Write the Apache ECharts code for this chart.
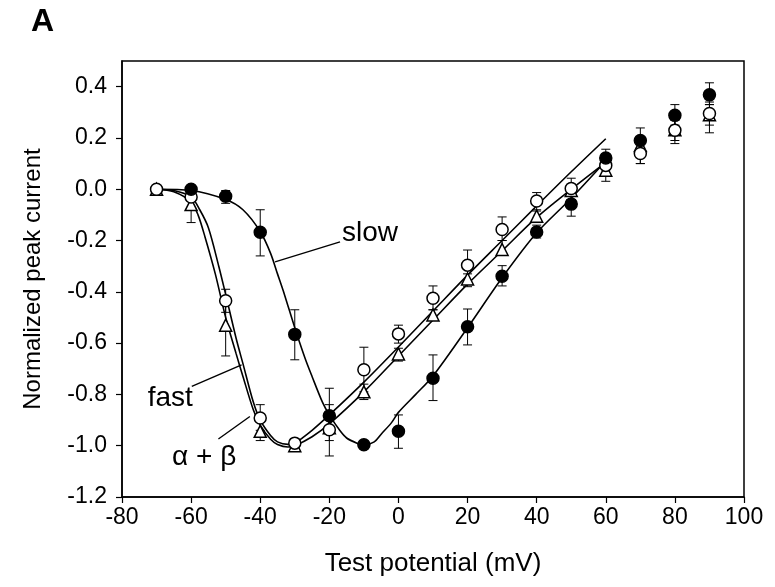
<!DOCTYPE html>
<html><head><meta charset="utf-8">
<script src="https://cdn.jsdelivr.net/npm/echarts@6/dist/echarts.min.js"></script>
<style>html,body{margin:0;padding:0;background:#fff}#c{width:775px;height:587px}</style>
</head><body><div id="c"></div>
<script>
// ---- data ----
var xTicks = [-80,-60,-40,-20,0,20,40,60,80,100];
var yTicks = [-1.2,-1.0,-0.8,-0.6,-0.4,-0.2,0.0,0.2,0.4];
// measured points [potential, current]
var slowPts = [[-60,0.0],[-50,-0.027],[-40,-0.168],[-30,-0.566],[-20,-0.883],[-10,-0.996],[0,-0.944],[10,-0.737],[20,-0.536],[30,-0.339],[40,-0.167],[50,-0.058],[60,0.122],[70,0.19],[80,0.288],[90,0.368]];
var fastPts = [[-70,0.0],[-60,-0.03],[-50,-0.435],[-40,-0.892],[-30,-0.99],[-20,-0.938],[-10,-0.704],[0,-0.564],[10,-0.425],[20,-0.296],[30,-0.157],[40,-0.046],[50,0.003],[60,0.093],[70,0.139],[80,0.23],[90,0.295]];
var abPts = [[-70,0.0],[-60,-0.06],[-50,-0.53],[-40,-0.944],[-30,-1.0],[-20,-0.93],[-10,-0.79],[0,-0.642],[10,-0.49],[20,-0.35],[30,-0.235],[40,-0.105],[50,-0.005],[60,0.074],[70,0.171],[80,0.232],[90,0.29]];
// error bars [potential, high, low]
var slowErr = [[-50,-0.005,-0.055],[-40,-0.08,-0.26],[-30,-0.47,-0.665],[-20,-0.776,-0.98],[0,-0.88,-1.01],[10,-0.646,-0.824],[20,-0.467,-0.607],[30,-0.298,-0.377],[40,-0.14,-0.19],[50,-0.02,-0.105],[60,0.156,0.09],[70,0.239,0.15],[80,0.33,0.25],[90,0.415,0.33]];
var fastErr = [[-50,-0.39,-0.48],[-40,-0.84,-0.94],[-20,-0.84,-1.04],[-10,-0.616,-0.79],[0,-0.53,-0.6],[10,-0.377,-0.47],[20,-0.237,-0.355],[30,-0.108,-0.2],[40,-0.013,-0.085],[50,0.043,-0.04],[60,0.13,0.06],[70,0.2,0.1],[80,0.27,0.19],[90,0.34,0.25]];
var abErr = [[-60,-0.02,-0.13],[-50,-0.45,-0.65],[-40,-0.9,-0.98],[-10,-0.76,-0.82],[0,-0.62,-0.67],[10,-0.47,-0.51],[20,-0.33,-0.38],[30,-0.2,-0.25],[40,-0.08,-0.13],[50,0.02,-0.04],[60,0.09,0.031],[70,0.2,0.1],[80,0.27,0.178],[90,0.33,0.22]];
// fitted curves
var slowFit = [[-70,0.0],[-60,-0.005],[-50,-0.04],[-45,-0.08],[-40,-0.165],[-37,-0.25],[-35,-0.33],[-33,-0.41],[-30,-0.54],[-27,-0.66],[-25,-0.73],[-22,-0.83],[-20,-0.88],[-17,-0.94],[-15,-0.97],[-12,-0.99],[-10,-0.997],[-7,-0.985],[-5,-0.955],[-2,-0.91],[0,-0.87],[5,-0.8],[10,-0.728],[20,-0.54],[30,-0.345],[40,-0.17],[50,-0.035],[60,0.11]];
var fastFit = [[-70,0.0],[-65,-0.005],[-60,-0.03],[-57.5,-0.08],[-55,-0.15],[-52,-0.3],[-50,-0.41],[-47,-0.58],[-45,-0.68],[-42,-0.83],[-40,-0.9],[-37,-0.96],[-35,-0.985],[-32,-0.995],[-30,-0.99],[-25,-0.94],[-20,-0.88],[-10,-0.752],[0,-0.615],[10,-0.475],[20,-0.335],[30,-0.2],[40,-0.065],[50,0.068],[60,0.197]];
var abFit = [[-70,0.0],[-65,-0.01],[-60,-0.05],[-58,-0.1],[-56,-0.185],[-53,-0.33],[-50,-0.5],[-47,-0.64],[-45,-0.73],[-42,-0.86],[-40,-0.92],[-37,-0.975],[-35,-0.995],[-32,-1.005],[-30,-1.0],[-25,-0.965],[-20,-0.915],[-10,-0.79],[0,-0.65],[10,-0.51],[20,-0.37],[30,-0.24],[40,-0.11],[50,0.0],[60,0.105]];
// annotation anchors (data coords)
var slowLabel = {text:'slow', at:[-16.9,-0.205], line:[[-16.9,-0.205],[-35.7,-0.283]]};
var fastLabel = {text:'fast', at:[-59.5,-0.815], line:[[-59.8,-0.769],[-45.4,-0.685]]};
var abLabel = {text:'\u03b1 + \u03b2', at:[-65.5,-1.045], line:[[-52.1,-0.974],[-43.0,-0.886]]};

var FONT = '"Liberation Sans", Arial, sans-serif';
var chart = echarts.init(document.getElementById('c'));

function errSeries(data){
  return {type:'custom', data:data, z:1, silent:true,
    renderItem:function(params, api){
      var x = api.value(0);
      var p1 = api.coord([x, api.value(1)]);
      var p2 = api.coord([x, api.value(2)]);
      var w = 4.5;
      var st = {stroke:'#000', lineWidth:1};
      return {type:'group', children:[
        {type:'line', shape:{x1:p1[0],y1:p1[1],x2:p2[0],y2:p2[1]}, style:st},
        {type:'line', shape:{x1:p1[0]-w,y1:p1[1],x2:p1[0]+w,y2:p1[1]}, style:st},
        {type:'line', shape:{x1:p2[0]-w,y1:p2[1],x2:p2[0]+w,y2:p2[1]}, style:st}
      ]};
    }};
}
function fitSeries(data){
  return {type:'line', data:data, smooth:0.3, showSymbol:false, z:2, silent:true,
    lineStyle:{color:'#000', width:1.6}};
}
function ptSeries(data, symbol, fill, size){
  return {type:'scatter', data:data, symbol:symbol, symbolSize:size, z:5, silent:true,
    itemStyle:{color:fill, borderColor:'#000', borderWidth:1.5, opacity:1}};
}
function annSeries(lab){
  return {type:'line', data:lab.line, showSymbol:false, z:3, silent:true, lineStyle:{color:'#000', width:1.4}};
}

chart.setOption({
  animation:false,
  grid:{left:122, right:31, top:61, bottom:90, show:true, borderColor:'#000', borderWidth:1.5, backgroundColor:'transparent'},
  xAxis:{type:'value', min:xTicks[0], max:xTicks[xTicks.length-1], interval:20,
    name:'Test potential (mV)', nameLocation:'middle', nameGap:54,
    nameTextStyle:{fontFamily:FONT, fontSize:26, color:'#000'},
    axisLine:{onZero:false, lineStyle:{color:'#000', width:1.5}},
    axisTick:{inside:false, length:6, lineStyle:{color:'#000', width:1.2}},
    axisLabel:{fontFamily:FONT, fontSize:23, color:'#000', margin:9},
    splitLine:{show:false}},
  yAxis:{type:'value', min:yTicks[0], max:0.5, interval:0.2,
    name:'Normalized peak current', nameLocation:'middle', nameGap:77, nameRotate:90,
    nameTextStyle:{fontFamily:FONT, fontSize:24, color:'#000'},
    axisLine:{onZero:false, lineStyle:{color:'#000', width:1.5}},
    axisTick:{inside:false, length:6, lineStyle:{color:'#000', width:1.2}},
    axisLabel:{fontFamily:FONT, fontSize:23, color:'#000', margin:15, showMaxLabel:false,
      formatter:function(v){ return yTicks.some(function(t){return Math.abs(t-v)<1e-6;}) ? v.toFixed(1) : ''; }},
    splitLine:{show:false}},
  series:[
    fitSeries(slowFit), fitSeries(fastFit), fitSeries(abFit),
    annSeries(slowLabel), annSeries(fastLabel), annSeries(abLabel),
    errSeries(slowErr), errSeries(fastErr), errSeries(abErr),
    ptSeries(abPts, 'triangle', '#fff', 12),
    ptSeries(fastPts, 'circle', '#fff', 12),
    ptSeries(slowPts, 'circle', '#000', 12)
  ]
});

function px(d){ return chart.convertToPixel({gridIndex:0}, d); }
var pS = px(slowLabel.at), pF = px(fastLabel.at), pA = px(abLabel.at);
chart.setOption({graphic:[
  {type:'text', left:31, top:6, style:{text:'A', font:'bold 32px ' + FONT, fill:'#000'}},
  {type:'text', x:pS[0] + 2, y:pS[1] + 5, style:{text:slowLabel.text, font:'28px ' + FONT, fill:'#000', textAlign:'left', textVerticalAlign:'bottom'}},
  {type:'text', x:pF[0], y:pF[1], style:{text:fastLabel.text, font:'28px ' + FONT, fill:'#000', textAlign:'right', textVerticalAlign:'middle'}},
  {type:'text', x:pA[0], y:pA[1], style:{text:abLabel.text, font:'28px ' + FONT, fill:'#000', textAlign:'left', textVerticalAlign:'middle'}}
]});
</script></body></html>
